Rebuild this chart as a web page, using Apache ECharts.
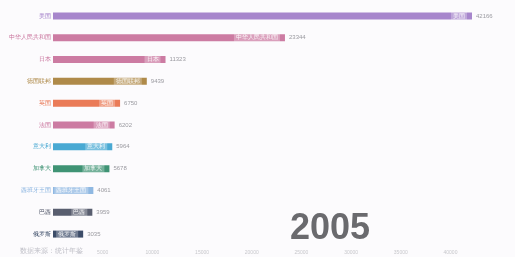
<!DOCTYPE html>
<html><head><meta charset="utf-8">
<script src="https://cdn.jsdelivr.net/npm/echarts@6/dist/echarts.min.js"></script>
<style>html,body{margin:0;padding:0;background:#fcfbfd}#c{width:515px;height:257px}</style>
</head><body><div id="c"></div>
<script>
var categories = ["美国","中华人民共和国","日本","德国联邦","英国","法国","意大利","加拿大","西班牙王国","巴西","俄罗斯"];
var values = [42166, 23344, 11323, 9439, 6750, 6202, 5964, 5678, 4061, 3959, 3035];
var barColors = ["#a07cc8","#c8709a","#c8709a","#a8803a","#e8704a","#c8709a","#3aa2cf","#2f8a68","#86b2e0","#4b5063","#2b3d5b"];
var year = "2005";
var source = "数据来源：统计年鉴";

var chart = echarts.init(document.getElementById('c'));
chart.setOption({
  backgroundColor: '#fcfbfd',
  animation: false,
  grid: {left: 53, right: 43, top: 5, bottom: 12, containLabel: false},
  xAxis: {
    type: 'value', max: 'dataMax', min: 0, interval: 5000,
    splitLine: {show: false}, axisLine: {show: false}, axisTick: {show: false},
    axisLabel: {color: '#c8c8cc', fontSize: 5, margin: 5,
      formatter: function(v){ return (v === 0 || v % 5000 !== 0) ? '' : v; }}
  },
  yAxis: {
    type: 'category', inverse: true, data: categories,
    axisLine: {show: false}, axisTick: {show: false},
    axisLabel: {fontSize: 6, margin: 2,
      color: function(v, i){ return barColors[i]; }}
  },
  series: [{
    type: 'bar', barWidth: 7,
    data: values.map(function(v, i){ return {value: v, itemStyle: {color: barColors[i], opacity: 0.92}}; }),
    label: {show: true, position: 'insideRight', formatter: '{b}', color: '#fff', fontSize: 6,
      backgroundColor: 'rgba(255,255,255,0.3)', padding: [1, 2]}
  }, {
    type: 'bar', barWidth: 7, barGap: '-100%',
    data: values, itemStyle: {color: 'rgba(0,0,0,0)'}, silent: true,
    label: {show: true, position: 'right', color: '#9a9aa0', fontSize: 6, distance: 4}
  }],
  graphic: [
    {type: 'text', right: 145, bottom: 10, style: {text: year, fontSize: 36, fontWeight: 'bold', fill: '#6a6a6e', fontFamily: 'Liberation Sans, sans-serif'}},
    {type: 'text', left: 20, bottom: 2, style: {text: source, fontSize: 7, fill: '#c0c0c8'}}
  ]
});
</script></body></html>
